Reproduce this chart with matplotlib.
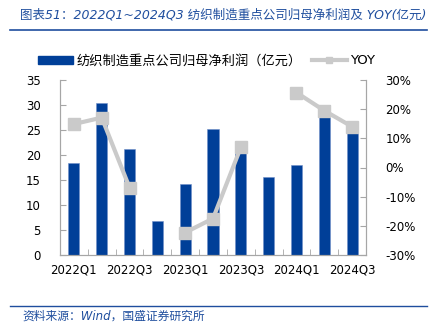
import matplotlib.pyplot as plt
import numpy as np
from matplotlib.lines import Line2D
from matplotlib.patches import Patch

plt.rcParams['font.family'] = ['DejaVu Sans', 'Noto Sans CJK SC']

quarters = ['2022Q1', '2022Q2', '2022Q3', '2022Q4', '2023Q1', '2023Q2',
            '2023Q3', '2023Q4', '2024Q1', '2024Q2', '2024Q3']
profit = [18.5, 30.5, 21.2, 6.9, 14.3, 25.2, 21.0, 15.6, 18.0, 30.1, 25.5]
yoy = [14.9, 17.1, -6.9, np.nan, -22.3, -17.5, 6.9, np.nan, 25.7, 19.5, 14.0]

bar_color = '#003F98'
line_color = '#CACACA'
blue_txt = '#1F4E9E'
axis_gray = '#A6A6A6'

fig = plt.figure(figsize=(4.31, 3.26), dpi=100)
ax = fig.add_axes([60/431, 1-255/326, 306/431, 175/326])
ax2 = ax.twinx()

x = np.arange(len(quarters))
ax.bar(x, profit, width=0.4, color=bar_color, edgecolor='#6F8FC8', linewidth=0.4, zorder=2)
ax2.plot(x, np.array(yoy) / 100, color=line_color, lw=3, marker='s', ms=9,
         mfc=line_color, mec=line_color, zorder=3)

ax.set_xlim(-0.5, len(quarters) - 0.5)
ax.set_ylim(0, 35)
ax.set_yticks(range(0, 36, 5))
ax2.set_ylim(-0.3, 0.3)
ax2.set_yticks(np.arange(-0.3, 0.31, 0.1))
ax2.set_yticklabels(['%d%%' % round(v * 100) for v in np.arange(-0.3, 0.31, 0.1)])

ax.set_xticks(x[::2])
ax.set_xticklabels(quarters[::2])
ax.set_xticks(np.arange(-0.5, len(quarters), 1), minor=True)
ax.tick_params(axis='x', which='major', length=0, labelsize=8.5, pad=6)
ax.tick_params(axis='x', which='minor', direction='in', length=4, color=axis_gray)
ax.tick_params(axis='y', direction='in', length=4, color=axis_gray, labelsize=8.5, pad=14)
ax2.tick_params(axis='y', direction='in', length=4, color=axis_gray, labelsize=8.5, pad=14)

for a in (ax, ax2):
    a.spines['top'].set_visible(False)
    for s in ('left', 'right', 'bottom'):
        a.spines[s].set_color(axis_gray)
        a.spines[s].set_linewidth(0.8)
ax.set_zorder(ax2.get_zorder() - 1)
ax.patch.set_visible(False)
ax2.patch.set_visible(False)

handles = [Patch(color=bar_color),
           Line2D([0], [0], color=line_color, lw=3, marker='s', ms=5)]
fig.legend(handles, ['纺织制造重点公司归母净利润（亿元）', 'YOY'],
           loc='center', bbox_to_anchor=(0.48, 1-61/326), ncol=2, frameon=False,
           fontsize=9.5, handlelength=2.6, handleheight=0.6, columnspacing=0.8,
           handletextpad=0.3)

fig.text(20/431, 1-15/326, '图表51：2022Q1~2024Q3 纺织制造重点公司归母净利润及 YOY(亿元)',
         color=blue_txt, fontsize=9, style='italic', va='center', ha='left')
fig.add_artist(Line2D([10/431, 427/431], [1-30/326, 1-30/326], color=blue_txt, lw=1.2))
fig.add_artist(Line2D([10/431, 427/431], [1-306/326, 1-306/326], color=blue_txt, lw=1.0))
fig.text(22/431, 1-316/326, '资料来源：Wind，国盛证券研究所',
         color=blue_txt, fontsize=8.5, style='italic', va='center', ha='left')

fig.savefig('out.png', dpi=100)
